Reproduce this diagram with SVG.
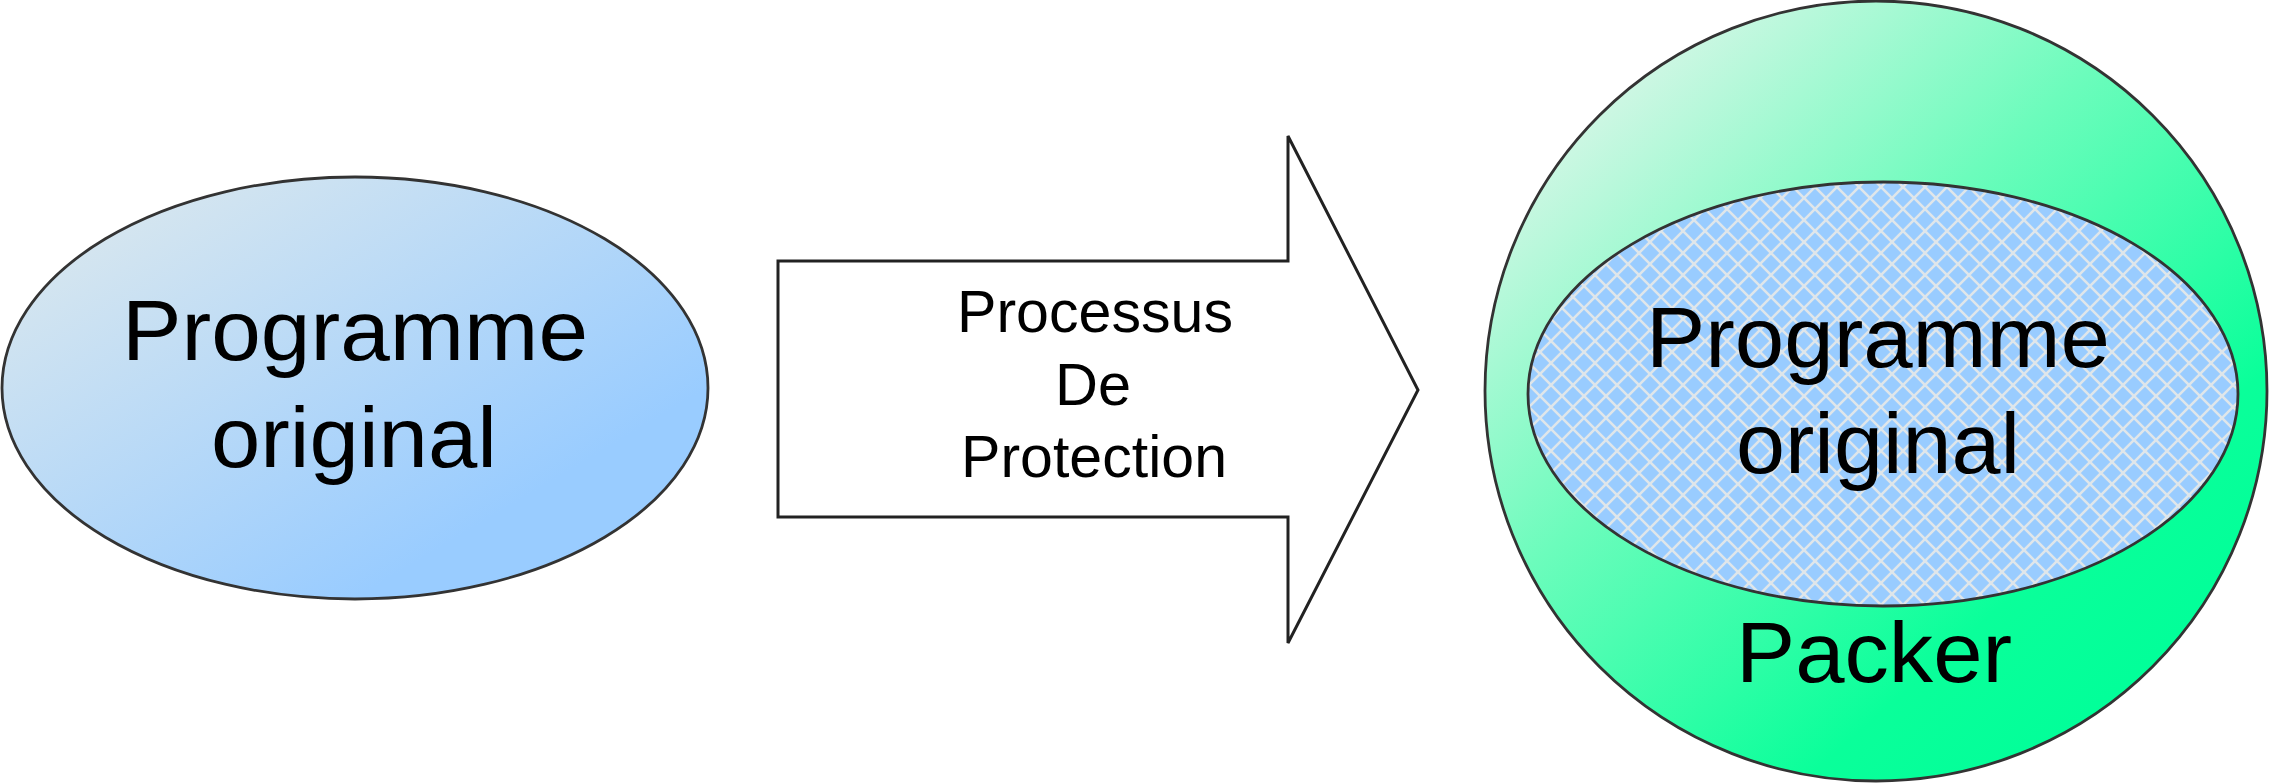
<svg xmlns="http://www.w3.org/2000/svg" width="2273" height="784" viewBox="0 0 2273 784">
  <defs>
    <linearGradient id="gBlue" x1="0" y1="0" x2="1" y2="1">
      <stop offset="0" stop-color="#e2ebec"/>
      <stop offset="0.75" stop-color="#99ccff"/>
      <stop offset="1" stop-color="#99ccff"/>
    </linearGradient>
    <linearGradient id="gGreen" x1="0.12" y1="0.08" x2="0.85" y2="0.9">
      <stop offset="0" stop-color="#def6ea"/>
      <stop offset="0.4" stop-color="#6cfcbc"/>
      <stop offset="0.8" stop-color="#0aff9a"/>
      <stop offset="1" stop-color="#00ff99"/>
    </linearGradient>
    <pattern id="hatch" patternUnits="userSpaceOnUse" width="22" height="22">
      <rect width="22" height="22" fill="#99ccff"/>
      <path d="M-2,-2 L24,24 M-2,24 L24,-2" stroke="#dfe6ea" stroke-width="2.6" fill="none"/>
    </pattern>
    <style>
      .shape { stroke: #333333; stroke-width: 2.8; }
      .lbl { font-family: "Liberation Sans", Arial, sans-serif; fill: #000000; text-anchor: middle; }
      .big { font-size: 86px; }
      .small { font-size: 60px; }
    </style>
  </defs>

  <g id="node-original">
    <ellipse class="shape" cx="355" cy="388" rx="353" ry="211" fill="url(#gBlue)"/>
    <text class="lbl big" x="355" y="360" textLength="466" lengthAdjust="spacingAndGlyphs">Programme</text>
    <text class="lbl big" x="354" y="467" textLength="286" lengthAdjust="spacingAndGlyphs">original</text>
  </g>

  <g id="connectors">
    <g id="arrow-protection">
      <polygon points="778,261 1288,261 1288,136 1418,390 1288,643 1288,517 778,517" fill="#ffffff" stroke="#222222" stroke-width="3" stroke-linejoin="miter"/>
      <text class="lbl small" x="1095" y="332" textLength="276" lengthAdjust="spacingAndGlyphs">Processus</text>
      <text class="lbl small" x="1093" y="405" textLength="76" lengthAdjust="spacingAndGlyphs">De</text>
      <text class="lbl small" x="1094" y="477" textLength="266" lengthAdjust="spacingAndGlyphs">Protection</text>
    </g>
  </g>

  <g id="node-packer">
    <ellipse class="shape" cx="1876" cy="391" rx="391" ry="390" fill="url(#gGreen)"/>
    <text class="lbl big" x="1874" y="682" textLength="276" lengthAdjust="spacingAndGlyphs">Packer</text>
  </g>

  <g id="node-inner-original">
    <ellipse class="shape" cx="1883" cy="394" rx="355" ry="212" fill="url(#hatch)"/>
    <text class="lbl big" x="1878" y="367" textLength="464" lengthAdjust="spacingAndGlyphs">Programme</text>
    <text class="lbl big" x="1878" y="473" textLength="284" lengthAdjust="spacingAndGlyphs">original</text>
  </g>
</svg>
